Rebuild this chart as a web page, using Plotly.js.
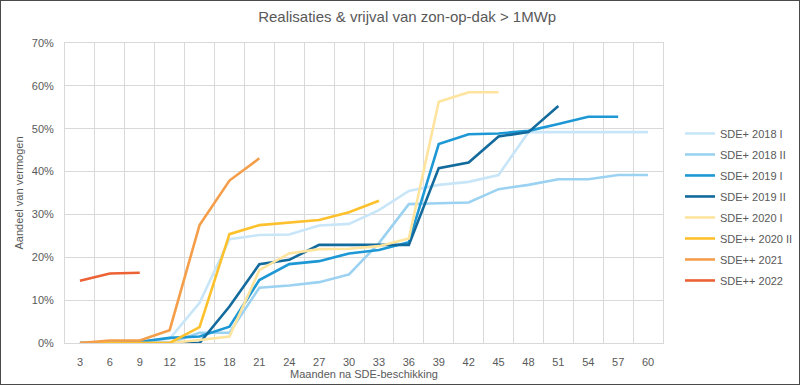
<!DOCTYPE html>
<html>
<head>
<meta charset="utf-8">
<script src="https://cdn.plot.ly/plotly-3.0.1.min.js"></script>
<style>
  html, body { margin: 0; padding: 0; background: #fff; }
  #wrap { position: relative; width: 800px; height: 385px; }
  #chart { width: 800px; height: 385px; }
  #frame { position: absolute; left: 0; top: 0; width: 800px; height: 385px; box-sizing: border-box; border: 1.5px solid #4a4a4a; pointer-events: none; }
</style>
</head>
<body>
<div id="wrap"><div id="chart"></div><div id="frame"></div></div>
<script>
const months = ["3","6","9","12","15","18","21","24","27","30","33","36","39","42","45","48","51","54","57","60"];
const yTicks = [0, 10, 20, 30, 40, 50, 60, 70];

const sde2018I   = [0, 0, 0.3, 1.0, 9.4, 24.2, 25.2, 25.3, 27.4, 27.8, 31.0, 35.5, 36.9, 37.6, 39.2, 49.2, 49.2, 49.2, 49.2, 49.2];
const sde2018II  = [0, 0, 0, 0, 2.4, 2.4, 12.9, 13.4, 14.2, 16.0, 23.3, 32.4, 32.6, 32.8, 35.9, 36.9, 38.2, 38.2, 39.2, 39.2];
const sde2019I   = [0, 0, 0.3, 1.2, 1.5, 3.8, 14.7, 18.4, 19.1, 20.9, 21.7, 23.5, 46.4, 48.7, 48.9, 49.5, 51.1, 52.8, 52.8];
const sde2019II  = [0, 0, 0, 0, 0, 8.5, 18.4, 19.4, 22.9, 22.9, 22.9, 22.9, 40.8, 42.1, 48.2, 49.2, 55.3];
const sde2020I   = [0, 0, 0, 0, 0.7, 1.5, 17.0, 20.9, 21.9, 22.0, 22.6, 24.4, 56.3, 58.5, 58.5];
const sde2020II  = [0, 0, 0, 0, 3.7, 25.4, 27.5, 28.1, 28.7, 30.5, 33.2];
const sde2021    = [0, 0.6, 0.6, 3.0, 27.5, 37.9, 43.1];
const sde2022    = [14.5, 16.2, 16.4];

const seriesNames = ["SDE+ 2018 I", "SDE+ 2018 II", "SDE+ 2019 I", "SDE+ 2019 II", "SDE+ 2020 I", "SDE++ 2020 II", "SDE++ 2021", "SDE++ 2022"];
const seriesValues = [sde2018I, sde2018II, sde2019I, sde2019II, sde2020I, sde2020II, sde2021, sde2022];
const seriesColors = ["#C8E6F8", "#9BD2F1", "#1D98D5", "#136A9C", "#FFE49E", "#FEC12E", "#F59E4A", "#EC6234"];

const traces = seriesValues.map((vals, i) => ({
  type: "scatter",
  mode: "lines",
  name: seriesNames[i],
  legendgroup: "g" + i,
  x: months.slice(0, vals.length),
  y: vals.map(v => v / 100),
  line: { color: seriesColors[i], width: 2.6 },
  hoverinfo: "skip"
}));

const layout = {
  width: 800,
  height: 385,
  margin: { l: 65, r: 137, t: 43, b: 42, autoexpand: false },
  paper_bgcolor: "#ffffff",
  plot_bgcolor: "#ffffff",
  font: { family: "Liberation Sans, Arial, sans-serif", size: 11, color: "#595959" },
  title: {
    text: "Realisaties &amp; vrijval van zon-op-dak &gt; 1MWp",
    font: { family: "Liberation Sans, sans-serif", size: 15, color: "#595959" },
    xref: "container", yref: "container",
    x: 0.509, y: 1 - 17 / 385, xanchor: "center", yanchor: "middle"
  },
  xaxis: {
    type: "category",
    categoryorder: "array",
    categoryarray: months,
    tickson: "boundaries",
    range: [-0.5, months.length - 0.5],
    showgrid: true,
    gridcolor: "#D9D9D9",
    gridwidth: 1,
    showline: true,
    linecolor: "#D9D9D9",
    linewidth: 1,
    mirror: true,
    ticks: "",
    ticklabelstandoff: 9,
    tickfont: { size: 11, color: "#595959" },
    title: { text: "Maanden na SDE-beschikking", font: { size: 11, color: "#595959" }, standoff: 0 },
    zeroline: false
  },
  yaxis: {
    range: [0, 0.7],
    tickvals: yTicks.map(v => v / 100),
    ticktext: yTicks.map(v => v + "%"),
    showgrid: true,
    gridcolor: "#D9D9D9",
    gridwidth: 1,
    showline: true,
    linecolor: "#D9D9D9",
    mirror: true,
    ticks: "",
    ticklabelstandoff: 8,
    tickfont: { size: 11, color: "#595959" },
    title: { text: "Aandeel van vermogen", font: { size: 11, color: "#595959" }, standoff: 5 },
    zeroline: false
  },
  showlegend: true,
  legend: {
    xref: "container", yref: "container",
    x: 0.85, xanchor: "left",
    y: 0.691, yanchor: "top",
    font: { size: 11, color: "#595959" },
    tracegroupgap: 2,
    bgcolor: "rgba(0,0,0,0)",
    itemclick: false,
    itemdoubleclick: false
  }
};

Plotly.newPlot("chart", traces, layout, { staticPlot: true, displayModeBar: false });
</script>
</body>
</html>
